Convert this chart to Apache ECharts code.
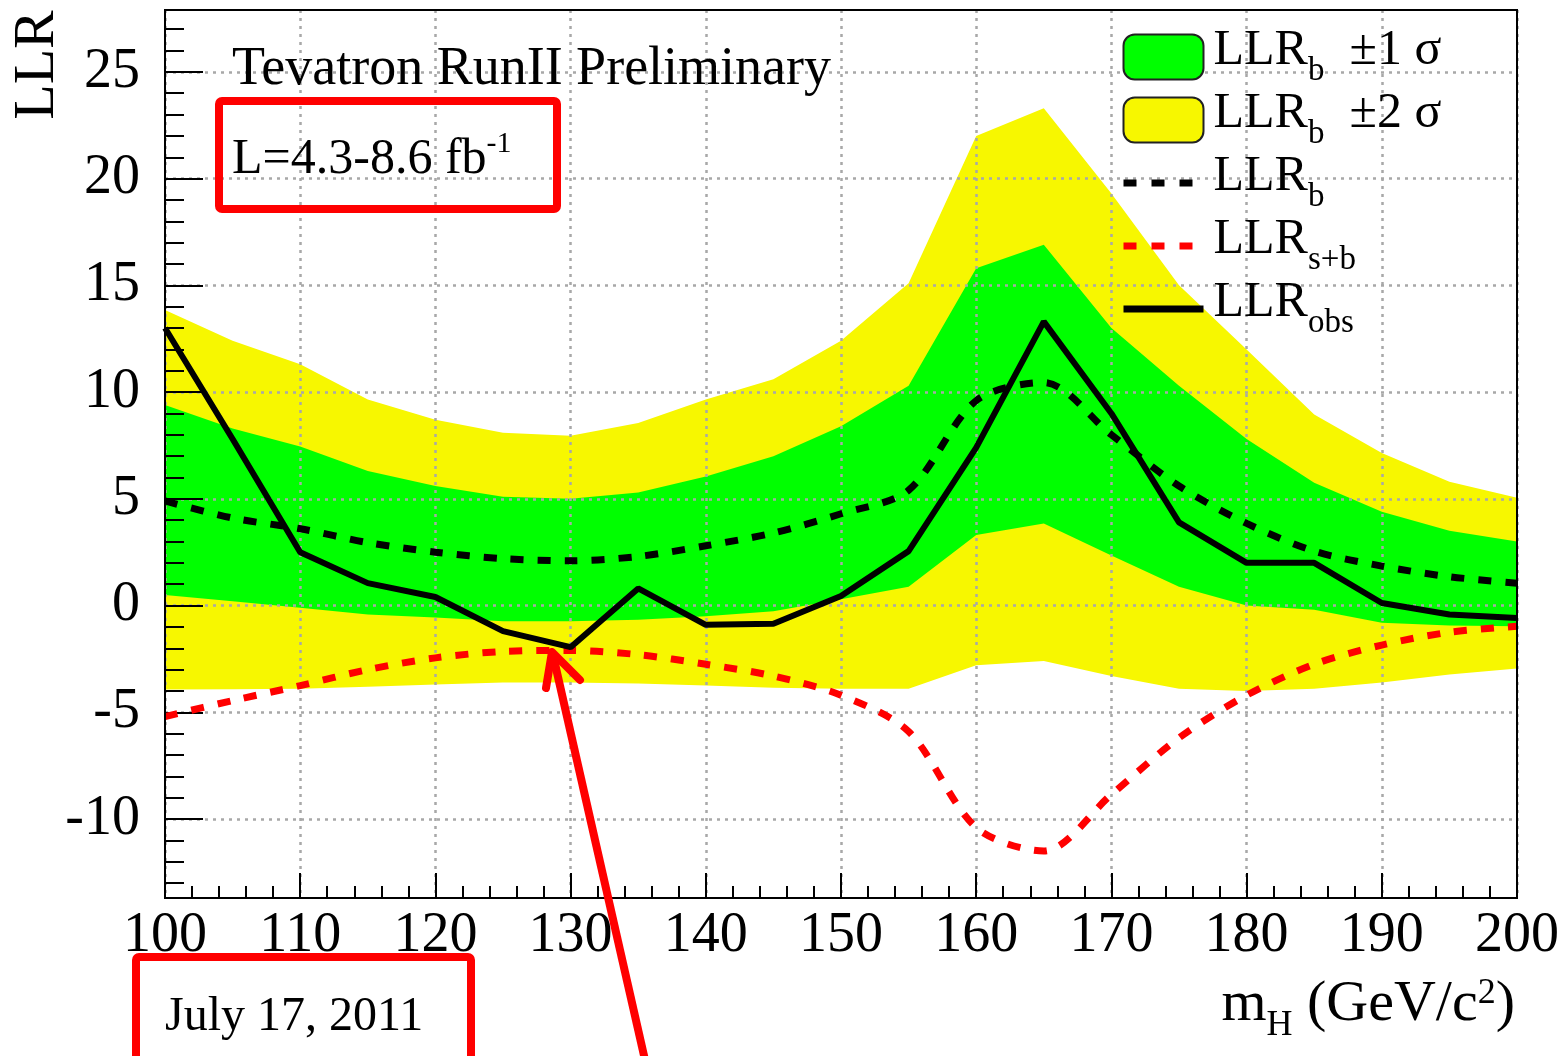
<!DOCTYPE html>
<html><head><meta charset="utf-8">
<script src="https://cdn.jsdelivr.net/npm/echarts@6/dist/echarts.min.js"></script>
<style>html,body{margin:0;padding:0;background:#fff}#c{width:1563px;height:1056px}</style>
</head><body><div id="c"></div>
<script>
const mass = [100,105,110,115,120,125,130,135,140,145,150,155,160,165,170,175,180,185,190,195,200];
const llrObs = [13.0, 7.8, 2.5, 1.05, 0.4, -1.2, -1.95, 0.8, -0.9, -0.85, 0.45, 2.55, 7.4, 13.3, 9.0, 3.9, 2.0, 2.0, 0.12, -0.42, -0.58];
const llrB = [4.9, 4.1, 3.6, 2.95, 2.5, 2.2, 2.1, 2.3, 2.8, 3.4, 4.3, 5.4, 9.6, 10.45, 8.0, 5.6, 3.85, 2.55, 1.85, 1.35, 1.05];
const llrSB = [-5.2, -4.45, -3.75, -3.0, -2.45, -2.15, -2.1, -2.3, -2.75, -3.3, -4.2, -5.9, -10.4, -11.5, -8.85, -6.2, -4.2, -2.75, -1.85, -1.25, -0.97];
const b1Hi = [9.4, 8.3, 7.45, 6.3, 5.6, 5.1, 5.0, 5.3, 6.05, 7.0, 8.4, 10.3, 15.8, 16.9, 13.0, 10.3, 7.8, 5.75, 4.4, 3.5, 3.0];
const b1Lo = [0.5, 0.2, -0.1, -0.42, -0.56, -0.73, -0.73, -0.66, -0.5, -0.27, 0.3, 0.88, 3.3, 3.85, 2.35, 0.88, 0.0, -0.2, -0.8, -0.94, -0.97];
const b2Hi = [13.85, 12.4, 11.3, 9.65, 8.7, 8.1, 7.95, 8.55, 9.65, 10.6, 12.4, 15.1, 22.0, 23.3, 19.3, 15.0, 12.0, 8.95, 7.15, 5.8, 5.05];
const b2Lo = [-3.93, -3.92, -3.9, -3.8, -3.7, -3.6, -3.6, -3.65, -3.75, -3.85, -3.9, -3.9, -2.8, -2.6, -3.3, -3.9, -4.0, -3.9, -3.6, -3.23, -2.95];
const yMajorTicks = [-10, -5, 0, 5, 10, 15, 20, 25];
const yMinorTicks = [-13,-12,-11,-9,-8,-7,-6,-4,-3,-2,-1,1,2,3,4,6,7,8,9,11,12,13,14,16,17,18,19,21,22,23,24,26,27];

const SERIF = '"Liberation Serif", "Times New Roman", serif';
const GREEN = '#00ff00', YELLOW = '#f7f700';

const legendText = {
  'LLR_b ±1σ': '{f|LLR}{s|b}{n|  ±1 σ}',
  'LLR_b ±2σ': '{f|LLR}{s|b}{n|  ±2 σ}',
  'LLR_b': '{f|LLR}{s|b}',
  'LLR_s+b': '{f|LLR}{s|s+b}',
  'LLR_obs': '{f|LLR}{s|obs}'
};

function band(lo, hi) {
  return function (params, api) {
    if (params.dataIndex !== 0) return null;
    const pts = [];
    for (let i = 0; i < mass.length; i++) pts.push(api.coord([mass[i], hi[i]]));
    for (let i = mass.length - 1; i >= 0; i--) pts.push(api.coord([mass[i], lo[i]]));
    return { type: 'polygon', shape: { points: pts }, style: { fill: api.visual('color') } };
  };
}

const noSymbol = { color: 'rgba(0,0,0,0)', borderWidth: 0, opacity: 0 };
const chart = echarts.init(document.getElementById('c'), null, { renderer: 'canvas' });
const YMIN = -13.7, YMAX = 27.9;
chart.setOption({
  animation: false,
  backgroundColor: '#fff',
  grid: { left: 165, right: 46, top: 10, bottom: 158, show: true, borderColor: '#000', borderWidth: 2, z: 10 },
  xAxis: {
    type: 'value', min: 100, max: 200, interval: 10, z: 2,
    axisLine: { onZero: false, lineStyle: { color: '#000', width: 2 } },
    axisTick: { inside: true, length: 25, lineStyle: { color: '#000', width: 2 } },
    minorTick: { show: true, splitNumber: 5, length: 12, lineStyle: { color: '#000', width: 2 } },
    axisLabel: { margin: 10, fontFamily: SERIF, fontSize: 56, color: '#000', showMinLabel: true, showMaxLabel: true },
    splitLine: { show: true, lineStyle: { color: '#a8a8a8', width: 2.5, type: [3, 5] } }
  },
  yAxis: [{
    type: 'value', min: YMIN, max: YMAX, z: 2, position: 'left',
    axisLine: { show: true, onZero: false, lineStyle: { color: '#000', width: 2 } },
    axisTick: { inside: true, length: 38, customValues: yMajorTicks, lineStyle: { color: '#000', width: 2 } },
    axisLabel: { margin: 25, customValues: yMajorTicks, fontFamily: SERIF, fontSize: 56, color: '#000' },
    splitLine: { show: true, lineStyle: { color: '#a8a8a8', width: 2.5, type: [3, 5] } }
  }, {
    type: 'value', min: YMIN, max: YMAX, z: 2, position: 'left', offset: 0,
    axisLine: { show: false, onZero: false },
    axisTick: { show: true, inside: true, length: 19, customValues: yMinorTicks, lineStyle: { color: '#000', width: 2 } },
    axisLabel: { show: false },
    splitLine: { show: false }
  }],
  legend: {
    left: 1120, top: 26, orient: 'vertical', itemWidth: 80, itemHeight: 45, itemGap: 1, padding: 0,
    selectedMode: false,
    data: [
      { name: 'LLR_b ±1σ', icon: 'roundRect', itemStyle: { borderColor: '#222', borderWidth: 2 } },
      { name: 'LLR_b ±2σ', icon: 'roundRect', itemStyle: { borderColor: '#222', borderWidth: 2 } },
      { name: 'LLR_b', itemStyle: noSymbol, lineStyle: { color: '#000', width: 7, type: [13, 15] } },
      { name: 'LLR_s+b', itemStyle: noSymbol, lineStyle: { color: '#ff0000', width: 7, type: [13, 15] } },
      { name: 'LLR_obs', itemStyle: noSymbol, lineStyle: { color: '#000', width: 7, type: 'solid' } }
    ],
    formatter: function (name) { return legendText[name]; },
    textStyle: {
      color: '#000',
      rich: {
        f: { fontFamily: SERIF, fontSize: 50, color: '#000', verticalAlign: 'bottom', padding: [0, 0, 12, 5] },
        n: { fontFamily: SERIF, fontSize: 50, color: '#000', verticalAlign: 'bottom', padding: [0, 0, 12, 0] },
        s: { fontFamily: SERIF, fontSize: 33, color: '#000', verticalAlign: 'bottom' }
      }
    }
  },
  series: [
    { name: 'LLR_b ±2σ', type: 'custom', z: 1, itemStyle: { color: YELLOW }, encode: { x: 0, y: [1, 2] },
      data: mass.map((m, i) => [m, b2Lo[i], b2Hi[i]]), renderItem: band(b2Lo, b2Hi), silent: true },
    { name: 'LLR_b ±1σ', type: 'custom', z: 1, itemStyle: { color: GREEN }, encode: { x: 0, y: [1, 2] },
      data: mass.map((m, i) => [m, b1Lo[i], b1Hi[i]]), renderItem: band(b1Lo, b1Hi), silent: true },
    { name: 'LLR_s+b', type: 'line', z: 4, symbol: 'none', smooth: 0.3, itemStyle: { color: '#ff0000' },
      lineStyle: { color: '#ff0000', width: 7, type: [13, 14] }, data: mass.map((m, i) => [m, llrSB[i]]) },
    { name: 'LLR_b', type: 'line', z: 4, symbol: 'none', smooth: 0.3, itemStyle: { color: '#000' },
      lineStyle: { color: '#000', width: 7, type: [13, 14] }, data: mass.map((m, i) => [m, llrB[i]]) },
    { name: 'LLR_obs', type: 'line', z: 5, symbol: 'none', itemStyle: { color: '#000' },
      lineStyle: { color: '#000', width: 6 }, data: mass.map((m, i) => [m, llrObs[i]]) }
  ],
  graphic: [
    { type: 'text', z: 100, x: 38, y: 65, rotation: Math.PI / 2,
      style: { text: 'LLR', fontFamily: SERIF, fontSize: 58, fill: '#000', align: 'center', verticalAlign: 'middle', textAlign: 'center', textVerticalAlign: 'middle' } },
    { type: 'text', z: 100, x: 232, y: 70,
      style: { text: 'Tevatron RunII Preliminary', fontFamily: SERIF, fontSize: 54, fill: '#000', verticalAlign: 'middle', textVerticalAlign: 'middle' } },
    { type: 'text', z: 100, x: 232, y: 157,
      style: { text: '{n|L=4.3-8.6 fb}{p|-1}', fill: '#000', verticalAlign: 'middle', textVerticalAlign: 'middle',
        rich: { n: { fontFamily: SERIF, fontSize: 50, fill: '#000', verticalAlign: 'bottom', padding: [6, 0, 0, 0] },
                p: { fontFamily: SERIF, fontSize: 30, fill: '#000', verticalAlign: 'top' } } } },
    { type: 'rect', z: 100, shape: { x: 219, y: 101, width: 338, height: 108, r: 3 },
      style: { fill: 'none', stroke: '#ff0000', lineWidth: 8 } },
    { type: 'text', z: 100, x: 165, y: 1017,
      style: { text: 'July 17, 2011', fontFamily: SERIF, fontSize: 48, fill: '#000', verticalAlign: 'middle', textVerticalAlign: 'middle' } },
    { type: 'rect', z: 100, shape: { x: 136, y: 957, width: 335, height: 130, r: 3 },
      style: { fill: 'none', stroke: '#ff0000', lineWidth: 8 } },
    { type: 'text', z: 100, x: 1515, y: 1010,
      style: { text: '{m|m}{s|H}{m| (GeV/c}{p|2}{m|)}', align: 'right', textAlign: 'right', verticalAlign: 'middle', textVerticalAlign: 'middle',
        rich: { m: { fontFamily: SERIF, fontSize: 58, fill: '#000', verticalAlign: 'bottom', padding: [0, 0, 10, 0] },
                s: { fontFamily: SERIF, fontSize: 36, fill: '#000', verticalAlign: 'bottom' },
                p: { fontFamily: SERIF, fontSize: 36, fill: '#000', verticalAlign: 'top' } } } },
    { type: 'polyline', z: 100, shape: { points: [[645, 1060], [553, 655]] },
      style: { stroke: '#ff0000', lineWidth: 8, fill: 'none' } },
    { type: 'polyline', z: 100, shape: { points: [[546, 688], [552, 652], [580, 680]] },
      style: { stroke: '#ff0000', lineWidth: 8, fill: 'none', lineJoin: 'round', lineCap: 'round' } }
  ]
});
</script></body></html>
